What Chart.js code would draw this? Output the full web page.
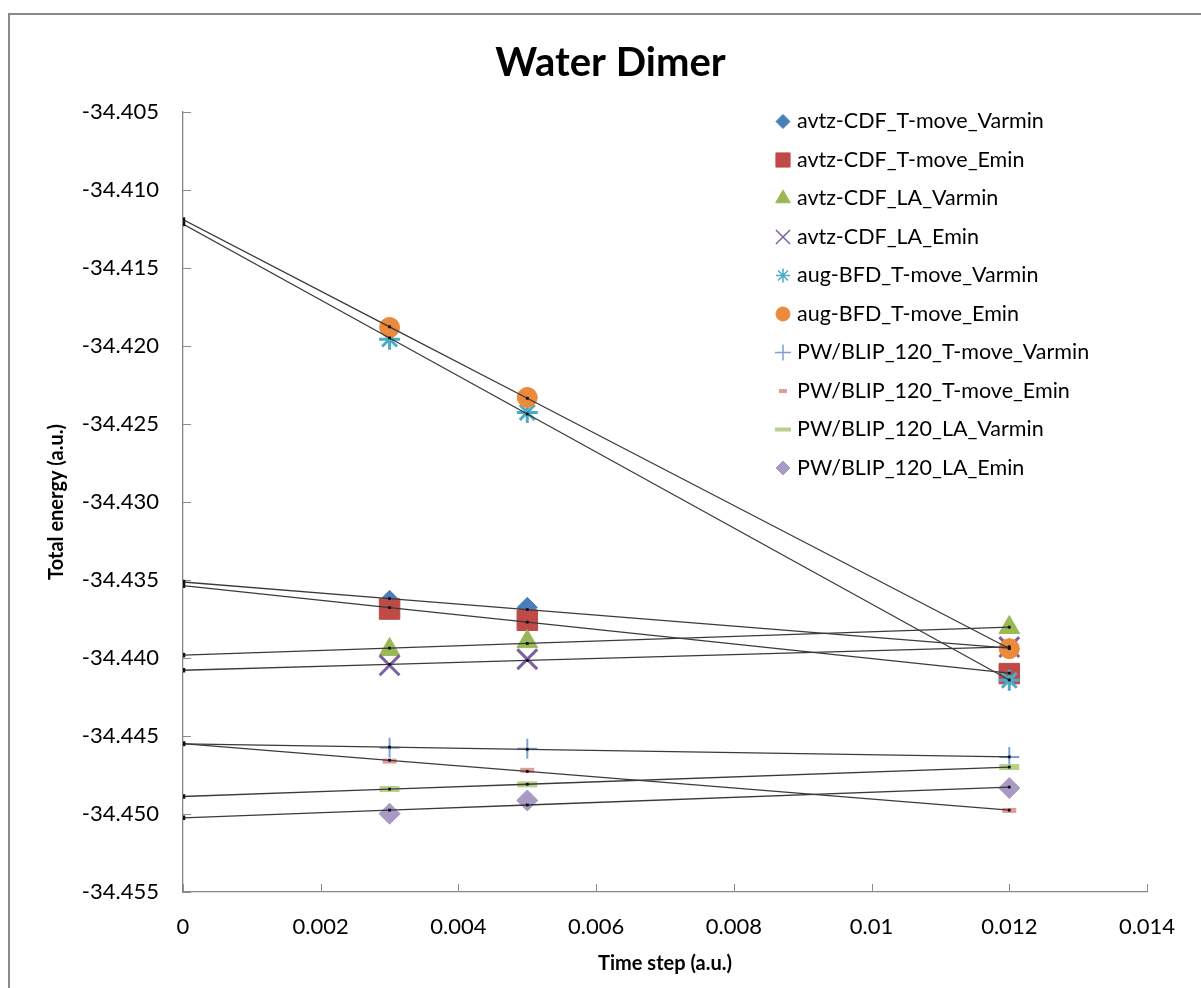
<!DOCTYPE html>
<html>
<head>
<meta charset="utf-8">
<title>Water Dimer</title>
<script src="https://cdn.jsdelivr.net/npm/chart.js@4.4.0/dist/chart.umd.min.js"></script>
<style>
  html, body { margin: 0; padding: 0; background: #fff; overflow: hidden; }
  #wrap { position: relative; width: 1201px; height: 988px; overflow: hidden; }
  /* chart object border, runs off the right and bottom like the original */
  #frame { position: absolute; left: 8px; top: 13px; width: 1300px; height: 1100px;
           border: 2px solid #8a8a8a; box-sizing: border-box; }
  canvas { position: absolute; left: 0; top: 0; }
</style>
</head>
<body>
<div id="wrap">
  <div id="frame"></div>
  <canvas id="chart" width="1221" height="988"></canvas>
</div>
<script>
// time steps (a.u.)
const timeSteps = [0.003, 0.005, 0.012];

// total energies (a.u.) per run
const avtzTmoveVarmin = [-34.43630, -34.43675, -34.43940];
const avtzTmoveEmin   = [-34.43686, -34.43758, -34.44100];
const avtzLaVarmin    = [-34.43946, -34.43895, -34.43805];
const avtzLaEmin      = [-34.44047, -34.44008, -34.43930];
const augTmoveVarmin  = [-34.41956, -34.42426, -34.44143];
const augTmoveEmin    = [-34.41881, -34.42330, -34.43940];
const pwTmoveVarmin   = [-34.44575, -34.44581, -34.44635];
const pwTmoveEmin     = [-34.44661, -34.44720, -34.44977];
const pwLaVarmin      = [-34.44840, -34.44810, -34.44699];
const pwLaEmin        = [-34.44998, -34.44913, -34.44834];

const seriesNames = [
  'avtz-CDF_T-move_Varmin', 'avtz-CDF_T-move_Emin', 'avtz-CDF_LA_Varmin', 'avtz-CDF_LA_Emin',
  'aug-BFD_T-move_Varmin', 'aug-BFD_T-move_Emin', 'PW/BLIP_120_T-move_Varmin',
  'PW/BLIP_120_T-move_Emin', 'PW/BLIP_120_LA_Varmin', 'PW/BLIP_120_LA_Emin'
];
const seriesValues = [avtzTmoveVarmin, avtzTmoveEmin, avtzLaVarmin, avtzLaEmin, augTmoveVarmin,
  augTmoveEmin, pwTmoveVarmin, pwTmoveEmin, pwLaVarmin, pwLaEmin];

// axis ticks
const xTicks = [0, 0.002, 0.004, 0.006, 0.008, 0.01, 0.012, 0.014];
const yTicks = [-34.455, -34.450, -34.445, -34.440, -34.435, -34.430, -34.425, -34.420, -34.415, -34.410, -34.405];

// marker looks, excel 2007 style
const markers = [
  { style: 'rectRot',  r: 10,   fill: '#4a7ebb', line: '#4a7ebb', w: 1, lr: 7 },
  { style: 'rect',     r: 14.5, fill: '#be4b48', line: '#be4b48', w: 1, lr: 10 },
  { style: 'triangle', r: 12,   fill: '#98b954', line: '#98b954', w: 1, lr: 8.5 },
  { style: 'crossRot', r: 14,   fill: '#7d60a0', line: '#7d60a0', w: 3, lr: 10 },
  { style: 'star',     r: 10.5, fill: '#4bacc6', line: '#4bacc6', w: 3, lr: 7 },
  { style: 'circle',   r: 10,   fill: '#eb8a3c', line: '#eb8a3c', w: 1, lr: 7 },
  { style: 'cross',    r: 10,   fill: '#7f9fd6', line: '#7f9fd6', w: 2, lr: 8 },
  { style: 'line',     r: 7,    fill: '#e39b9a', line: '#e39b9a', w: 5, lr: 4 },
  { style: 'line',     r: 10,   fill: '#b8d08e', line: '#b8d08e', w: 6, lr: 8 },
  { style: 'rectRot',  r: 10.5, fill: '#a899c5', line: '#a899c5', w: 1, lr: 7 }
];

Chart.defaults.font.family = 'Lato';
Chart.defaults.color = '#000';

// least squares line, like excel's linear trendline
function linFit(xs, ys) {
  const n = xs.length;
  const mx = xs.reduce((a, b) => a + b, 0) / n;
  const my = ys.reduce((a, b) => a + b, 0) / n;
  let sxy = 0, sxx = 0;
  for (let i = 0; i < n; i++) {
    sxy += (xs[i] - mx) * (ys[i] - my);
    sxx += (xs[i] - mx) * (xs[i] - mx);
  }
  const b = sxy / sxx;
  return { a: my - b * mx, b: b };
}

const datasets = [];
seriesValues.forEach((vals, i) => {
  const m = markers[i];
  datasets.push({
    label: seriesNames[i],
    data: timeSteps.map((t, k) => ({ x: t, y: vals[k] })),
    showLine: false,
    pointStyle: m.style,
    pointRadius: m.r,
    pointBackgroundColor: m.fill,
    pointBorderColor: m.line,
    pointBorderWidth: m.w,
    order: 20 - i
  });
});
// trendlines, forecast back to zero, drawn over the markers
seriesValues.forEach((vals, i) => {
  const f = linFit(timeSteps, vals);
  const xs = [0].concat(timeSteps);
  datasets.push({
    label: 'trend ' + seriesNames[i],
    data: xs.map(t => ({ x: t, y: f.a + f.b * t })),
    showLine: true,
    borderColor: '#3a3a3a',
    borderWidth: 1.3,
    pointStyle: 'rect',
    pointRadius: xs.map(t => t === 0 ? 3.2 : 2),
    pointBackgroundColor: '#111',
    pointBorderColor: '#111',
    pointBorderWidth: 0,
    order: 0
  });
});

// excel puts the tick marks inside the plot
const innerTicks = {
  id: 'innerTicks',
  beforeDatasetsDraw(chart) {
    const { ctx, chartArea, scales } = chart;
    ctx.save();
    ctx.strokeStyle = '#8c8c8c';
    ctx.lineWidth = 1;
    ctx.beginPath();
    scales.x.ticks.forEach(t => {
      const px = Math.round(scales.x.getPixelForValue(t.value)) + 0.5;
      ctx.moveTo(px, chartArea.bottom);
      ctx.lineTo(px, chartArea.bottom - 8);
    });
    scales.y.ticks.forEach(t => {
      const py = Math.round(scales.y.getPixelForValue(t.value)) + 0.5;
      ctx.moveTo(chartArea.left, py);
      ctx.lineTo(chartArea.left + 8, py);
    });
    ctx.stroke();
    ctx.restore();
  }
};

// legend sits inside the plot, top right
const insideLegend = {
  id: 'insideLegend',
  afterDraw(chart) {
    const ctx = chart.ctx;
    const lx = 783, top = 121.5, gap = 38.5;
    ctx.save();
    seriesNames.forEach((name, i) => {
      const m = markers[i];
      const y = top + i * gap;
      ctx.fillStyle = m.fill;
      ctx.strokeStyle = m.line;
      ctx.lineWidth = m.style === 'line' ? 4 : (m.w > 1 ? 1.5 : 1);
      Chart.helpers.drawPoint(ctx, { pointStyle: m.style, radius: m.lr, rotation: 0, borderWidth: ctx.lineWidth }, lx, y);
      ctx.fillStyle = '#000';
      ctx.font = '21.5px Lato';
      ctx.textAlign = 'left';
      ctx.textBaseline = 'middle';
      ctx.fillText(name, 797, y);
    });
    ctx.restore();
  }
};

new Chart(document.getElementById('chart'), {
  type: 'scatter',
  data: { datasets: datasets },
  options: {
    responsive: false,
    animation: false,
    layout: { padding: 0 },
    plugins: {
      legend: { display: false },
      tooltip: { enabled: false },
      title: {
        display: true,
        text: 'Water Dimer',
        color: '#000',
        font: { size: 40, weight: 'bold' },
        padding: { top: 39, bottom: 25 }
      }
    },
    scales: {
      x: {
        type: 'linear',
        min: 0,
        max: 0.014,
        afterBuildTicks: s => { s.ticks = xTicks.map(v => ({ value: v })); },
        afterFit: s => { s.height = 96; },
        grid: { display: true, drawOnChartArea: false, drawTicks: false },
        border: { color: '#868686', width: 1.3 },
        ticks: {
          padding: 22,
          font: { size: 22 },
          callback: v => String(parseFloat(v.toFixed(3)))
        },
        title: {
          display: true,
          text: 'Time step (a.u.)',
          font: { size: 20, weight: 'bold' },
          padding: { top: 0, bottom: 12 }
        }
      },
      y: {
        type: 'linear',
        min: -34.455,
        max: -34.405,
        afterBuildTicks: s => { s.ticks = yTicks.map(v => ({ value: v })); },
        afterFit: s => { s.width = 183; },
        grid: { display: true, drawOnChartArea: false, drawTicks: false },
        border: { color: '#868686', width: 1.3 },
        ticks: {
          padding: 24,
          font: { size: 22 },
          callback: v => v.toFixed(3)
        },
        title: {
          display: true,
          text: 'Total energy (a.u.)',
          font: { size: 20, weight: 'bold' },
          padding: { top: 45, bottom: 0 }
        }
      },
      // empty right-hand spacer so the title stays centred on the whole chart object
      spacer: {
        type: 'linear',
        position: 'right',
        min: 0,
        max: 1,
        afterFit: s => { s.width = 74; },
        grid: { display: false },
        border: { display: false },
        ticks: { display: false }
      }
    }
  },
  plugins: [innerTicks, insideLegend]
});
</script>
</body>
</html>
